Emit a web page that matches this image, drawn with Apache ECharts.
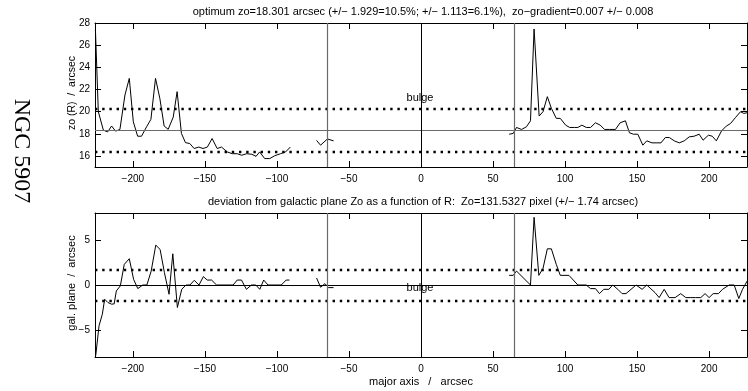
<!DOCTYPE html>
<html><head><meta charset="utf-8">
<script src="https://cdn.jsdelivr.net/npm/echarts@6/dist/echarts.min.js"></script>
<style>html,body{margin:0;padding:0;background:#fff}#c{width:748px;height:391px}</style>
</head><body><div id="c"></div><script>
// ---- tick labels ----
const xTicks = [-200, -150, -100, -50, 0, 50, 100, 150, 200];
const topYTicks = [16, 18, 20, 22, 24, 26, 28];
const botYTicks = [-5, 0, 5];

// ---- reference values ----
const zoOpt = 18.301, zoErr = 1.929, devErr = 1.74, bulgeR = 65;

// ---- upper panel: zo(R) ----
const topLeftR = [-226, -224, -220.5, -217.5, -214.8, -212, -209, -205.5, -202.5, -199.7, -196.7, -194, -190.5, -187.5, -184.3, -181.3, -178.3, -175.5, -172, -169.3, -166.3, -163.5, -160.5, -157.5, -154.3, -151.3, -148.3, -145, -141.5, -138.5, -134.5, -131, -127.6, -124.5, -121, -117.5, -114.5, -112, -108.5, -105, -101.5, -97.5, -94, -90.7];
const topLeftZ = [27.4, 20.0, 18.33, 18.17, 18.7, 18.24, 18.39, 21.5, 23.0, 19.08, 17.78, 17.78, 18.63, 19.3, 23.0, 21.2, 18.7, 18.4, 19.5, 21.8, 18.03, 17.2, 17.12, 16.67, 16.8, 16.67, 16.8, 17.57, 16.67, 16.8, 16.36, 16.2, 16.2, 16.06, 16.2, 16.15, 15.96, 16.36, 15.76, 15.76, 16.02, 16.2, 16.36, 16.8];
const topMidR = [-72.5, -69.7, -65, -60.7];
const topMidZ = [17.4, 16.97, 17.53, 17.36];
const topRightR = [61.2, 64, 66.3, 69.8, 73.2, 76, 78.5, 82, 84.7, 87.7, 90.5, 93.9, 96.7, 100.4, 103.2, 106.6, 108.9, 111.7, 114.7, 117.7, 121.1, 124.4, 127.4, 130.9, 135, 138.2, 141.9, 144.7, 147.5, 150.5, 154, 156.7, 160.4, 163.2, 166.6, 169.6, 172.4, 175.8, 179.3, 182.7, 186.2, 189.6, 193.1, 195.8, 199.5, 202.2, 205, 208.7, 211.9, 214.9, 218.4, 221.8, 224.1, 226.4];
const topRightZ = [17.96, 18.03, 18.57, 18.39, 18.63, 19.17, 27.46, 19.6, 19.99, 21.35, 20.3, 19.39, 19.39, 18.78, 18.57, 18.57, 18.57, 18.78, 18.57, 18.57, 18.99, 18.78, 18.39, 18.39, 18.39, 18.99, 19.17, 18.09, 17.96, 17.96, 16.97, 17.36, 17.18, 17.18, 17.18, 17.66, 17.66, 17.36, 17.18, 17.36, 17.72, 17.78, 17.96, 17.42, 17.87, 17.78, 17.36, 18.27, 18.69, 18.93, 19.48, 19.99, 19.84, 19.9];

// ---- lower panel: deviation from galactic plane ----
const botLeftR = [-225.8, -223.5, -221.2, -219.6, -217.3, -214.8, -213, -211.5, -208.7, -206, -202.5, -199.5, -196.6, -193.1, -190.3, -187.3, -184.1, -181.1, -178.1, -174.9, -172.3, -169.1, -166.1, -163.1, -160.4, -157.4, -154.1, -151.1, -148.4, -145.4, -141.9, -130.4, -127.6, -124.6, -121.2, -117.7, -114.7, -111.9, -109.2, -106.2, -97, -93.6, -91.3];
const botLeftD = [-7.85, -4.53, -3.24, -1.58, -1.95, -2.13, -2.1, -0.66, -0.1, 2.29, 2.92, 0.63, -0.4, 0, 0, 1.55, 4.43, 3.95, 1.37, -1.03, 3.47, -2.5, -0.48, 0, 0, 0.52, 0, 0.93, 0.55, 0.55, 0, 0, 0.55, 0.55, -0.48, 0, 0, -0.48, 0.55, 0, 0, 0.55, 0.55];
const botMidR = [-72.5, -69.7, -66.7, -64.2, -60.7];
const botMidD = [0.78, -0.25, 0.15, -0.29, -0.29];
const botRightR = [61.2, 64, 66.3, 76, 78.5, 81.8, 84.7, 87.7, 90.5, 93.9, 96.7, 102.7, 108.9, 114.7, 117.7, 121.1, 123.9, 126.9, 130.4, 133.1, 136.6, 139.6, 142.3, 145.8, 149.3, 153.5, 156.7, 162.5, 165.3, 168.8, 172.2, 176.4, 180.3, 183.8, 187.3, 190.7, 194.2, 197.2, 200, 202.8, 206.5, 209.3, 213.9, 217.4, 220.6, 223.2, 226.6];
const botRightD = [1.07, 1.07, 1.55, 0, 7.52, 1.07, 1.85, 4.02, 4.02, 2.29, 1.07, 1.07, 0, 0, -0.4, -0.4, -0.96, -0.48, -0.48, 0, -0.48, -0.96, -0.96, -0.48, 0, -0.48, 0, -0.85, -1.4, -0.48, -1.4, -1.4, -0.96, -1.4, -1.4, -1.4, -1.4, -0.96, -1.4, -0.96, -0.96, -0.48, 0, 0, -1.5, -0.48, 0.5];

const pairs = (xs, ys) => xs.map((x, i) => [x, ys[i]]);
const FONT = 'Liberation Sans, Arial, sans-serif';
const fmt = v => (v < 0 ? '\u2212' + Math.abs(v) : String(v));
const XMIN = -226.3, XMAX = 226.3;

function xAx(gi, pos, labels) {
  return {
    type: 'value', gridIndex: gi, position: pos, min: XMIN, max: XMAX,
    axisLine: { show: true, onZero: false, lineStyle: { color: '#000', width: 1 } },
    axisTick: { show: true, inside: true, length: 6, customValues: xTicks, lineStyle: { color: '#000' } },
    axisLabel: { show: labels, customValues: xTicks, formatter: fmt, color: '#000', fontFamily: FONT, fontSize: 10, margin: 7 },
    splitLine: { show: false }
  };
}
function yAx(gi, pos, labels, min, max, ticks) {
  return {
    type: 'value', gridIndex: gi, position: pos, min: min, max: max,
    axisLine: { show: true, onZero: false, lineStyle: { color: '#000', width: 1 } },
    axisTick: { show: true, inside: true, length: 6, customValues: ticks, lineStyle: { color: '#000' } },
    axisLabel: { show: labels, customValues: ticks, formatter: fmt, color: '#000', fontFamily: FONT, fontSize: 10, margin: 5 },
    splitLine: { show: false }
  };
}
const dotted = { color: '#000', width: 2.4, type: [2.4, 4.8] };
const grayL = { color: '#6a6a6a', width: 1.2, type: 'solid' };
const blackL = { color: '#000', width: 1, type: 'solid' };
function ml(lines) {
  return { symbol: 'none', silent: true, animation: false, label: { show: false }, data: lines };
}
function dataSeries(xi, yi, d, mark) {
  const s = { type: 'line', xAxisIndex: xi, yAxisIndex: yi, data: d, showSymbol: false, symbol: 'none',
    lineStyle: { color: '#000', width: 1 }, animation: false, silent: true, z: 3 };
  if (mark) s.markLine = ml(mark);
  return s;
}
const txt = (t, x, y, size, rot, font) => ({
  type: 'text', x: x, y: y, rotation: rot || 0,
  style: { text: t, fill: '#000', font: size + 'px ' + (font || FONT), align: 'center', verticalAlign: 'middle' }
});

const chart = echarts.init(document.getElementById('c'), null, { renderer: 'canvas' });
chart.setOption({
  animation: false,
  backgroundColor: '#fff',
  grid: [
    { left: 95, top: 23, width: 652, height: 144 },
    { left: 95, top: 213, width: 652, height: 144 }
  ],
  xAxis: [xAx(0, 'bottom', true), xAx(0, 'top', false), xAx(1, 'bottom', true), xAx(1, 'top', false)],
  yAxis: [yAx(0, 'left', true, 15, 28, topYTicks), yAx(0, 'right', false, 15, 28, topYTicks),
          yAx(1, 'left', true, -8, 8, botYTicks), yAx(1, 'right', false, -8, 8, botYTicks)],
  series: [
    dataSeries(0, 0, pairs(topLeftR, topLeftZ), [
      { yAxis: zoOpt + zoErr, lineStyle: dotted },
      { yAxis: zoOpt - zoErr, lineStyle: dotted },
      { yAxis: zoOpt, lineStyle: grayL },
      { xAxis: -bulgeR, lineStyle: grayL },
      { xAxis: bulgeR, lineStyle: grayL },
      { xAxis: 0, lineStyle: blackL }
    ]),
    dataSeries(0, 0, pairs(topMidR, topMidZ)),
    dataSeries(0, 0, pairs(topRightR, topRightZ)),
    dataSeries(2, 2, pairs(botLeftR, botLeftD), [
      { yAxis: devErr, lineStyle: dotted },
      { yAxis: -devErr, lineStyle: dotted },
      { yAxis: 0, lineStyle: blackL },
      { xAxis: -bulgeR, lineStyle: grayL },
      { xAxis: bulgeR, lineStyle: grayL },
      { xAxis: 0, lineStyle: blackL }
    ]),
    dataSeries(2, 2, pairs(botMidR, botMidD)),
    dataSeries(2, 2, pairs(botRightR, botRightD))
  ],
  graphic: [
    txt('optimum zo=18.301 arcsec (+/\u2212 1.929=10.5%; +/\u2212 1.113=6.1%),  zo\u2212gradient=0.007 +/\u2212 0.008', 423, 12, 11),
    txt('deviation from galactic plane Zo as a function of R:  Zo=131.5327 pixel (+/\u2212 1.74 arcsec)', 423, 202, 11),
    txt('major axis   /   arcsec', 421, 382, 11),
    txt('zo (R)  /  arcsec', 72, 93, 10.5, Math.PI / 2),
    txt('gal. plane  /  arcsec', 72, 283, 11, Math.PI / 2),
    txt('bulge', 420, 98, 11),
    txt('bulge', 420, 288, 11),
    txt('NGC 5907', 21, 151, 24, -Math.PI / 2, 'Liberation Serif, Times New Roman, serif')
  ]
});
</script></body></html>
